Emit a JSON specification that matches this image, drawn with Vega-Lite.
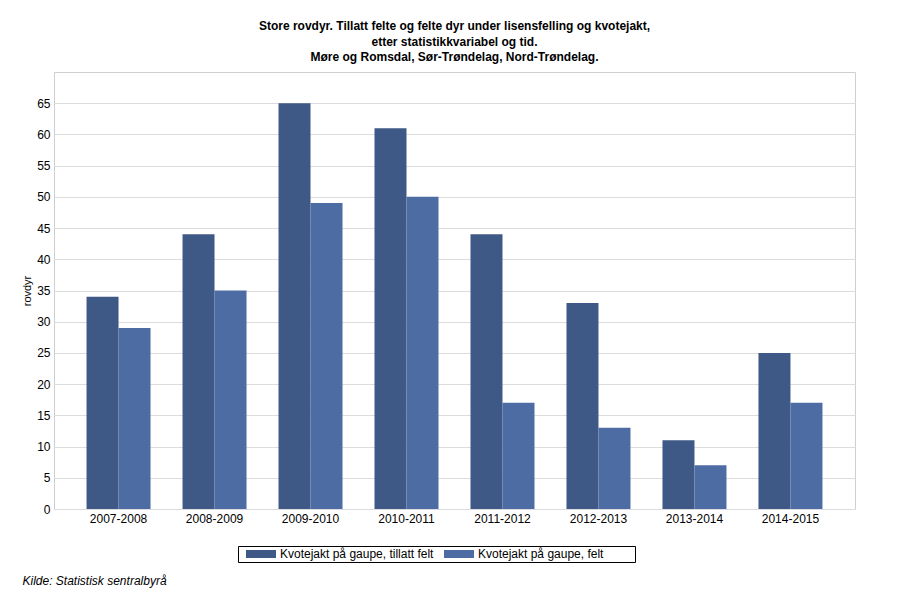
{
  "$schema": "https://vega.github.io/schema/vega-lite/v6.json",
  "width": 801,
  "height": 437,
  "autosize": {"type": "none"},
  "padding": {"left": 54, "top": 72, "right": 45, "bottom": 91},
  "background": "white",
  "config": {
    "font": "Liberation Sans",
    "view": {"stroke": "#cfcfcf", "strokeWidth": 1}
  },
  "title": {
    "text": [
      "Store rovdyr. Tillatt felte og felte dyr under lisensfelling og kvotejakt,",
      "etter statistikkvariabel og tid.",
      "Møre og Romsdal, Sør-Trøndelag, Nord-Trøndelag."
    ],
    "anchor": "middle",
    "fontSize": 12,
    "fontWeight": "bold",
    "color": "black",
    "lineHeight": 15.5,
    "offset": 8
  },
  "data": {
    "values": [
      {"periode": "2007-2008", "serie": "Kvotejakt på gaupe, tillatt felt", "verdi": 34},
      {"periode": "2007-2008", "serie": "Kvotejakt på gaupe, felt", "verdi": 29},
      {"periode": "2008-2009", "serie": "Kvotejakt på gaupe, tillatt felt", "verdi": 44},
      {"periode": "2008-2009", "serie": "Kvotejakt på gaupe, felt", "verdi": 35},
      {"periode": "2009-2010", "serie": "Kvotejakt på gaupe, tillatt felt", "verdi": 65},
      {"periode": "2009-2010", "serie": "Kvotejakt på gaupe, felt", "verdi": 49},
      {"periode": "2010-2011", "serie": "Kvotejakt på gaupe, tillatt felt", "verdi": 61},
      {"periode": "2010-2011", "serie": "Kvotejakt på gaupe, felt", "verdi": 50},
      {"periode": "2011-2012", "serie": "Kvotejakt på gaupe, tillatt felt", "verdi": 44},
      {"periode": "2011-2012", "serie": "Kvotejakt på gaupe, felt", "verdi": 17},
      {"periode": "2012-2013", "serie": "Kvotejakt på gaupe, tillatt felt", "verdi": 33},
      {"periode": "2012-2013", "serie": "Kvotejakt på gaupe, felt", "verdi": 13},
      {"periode": "2013-2014", "serie": "Kvotejakt på gaupe, tillatt felt", "verdi": 11},
      {"periode": "2013-2014", "serie": "Kvotejakt på gaupe, felt", "verdi": 7},
      {"periode": "2014-2015", "serie": "Kvotejakt på gaupe, tillatt felt", "verdi": 25},
      {"periode": "2014-2015", "serie": "Kvotejakt på gaupe, felt", "verdi": 17}
    ]
  },
  "mark": {"type": "bar"},
  "encoding": {
    "x": {
      "field": "periode",
      "type": "nominal",
      "sort": null,
      "scale": {"paddingInner": 0.3333, "paddingOuter": 0.339},
      "axis": {
        "title": "Kilde: Statistisk sentralbyrå",
        "titleFontStyle": "italic",
        "titleFontWeight": "normal",
        "titleFontSize": 12,
        "titleColor": "black",
        "titleAnchor": "start",
        "titleAlign": "left",
        "titleBaseline": "middle",
        "titleX": -32,
        "titleY": 71,
        "labelAngle": 0,
        "labelFontSize": 12,
        "labelColor": "black",
        "labelPadding": 4,
        "ticks": false,
        "domain": false,
        "grid": false
      }
    },
    "xOffset": {
      "field": "serie",
      "type": "nominal",
      "sort": ["Kvotejakt på gaupe, tillatt felt", "Kvotejakt på gaupe, felt"],
      "scale": {"paddingInner": 0, "paddingOuter": 0}
    },
    "y": {
      "field": "verdi",
      "type": "quantitative",
      "scale": {"domain": [0, 70], "nice": false},
      "axis": {
        "title": "rovdyr",
        "titleFontSize": 11,
        "titleFontWeight": "normal",
        "titleColor": "black",
        "titlePadding": 4,
        "values": [0, 5, 10, 15, 20, 25, 30, 35, 40, 45, 50, 55, 60, 65],
        "labelFontSize": 12,
        "labelColor": "black",
        "labelPadding": 4,
        "ticks": false,
        "domain": false,
        "gridColor": "#dcdcdc",
        "gridWidth": 1
      }
    },
    "color": {
      "field": "serie",
      "type": "nominal",
      "sort": ["Kvotejakt på gaupe, tillatt felt", "Kvotejakt på gaupe, felt"],
      "scale": {"range": ["#3f5986", "#4e6ca4"]},
      "legend": {
        "title": "\u00a0",
        "titleOrient": "right",
        "titlePadding": 30,
        "titleFontSize": 12,
        "orient": "none",
        "legendX": 184,
        "legendY": 474,
        "direction": "horizontal",
        "columns": 2,
        "columnPadding": 4,
        "padding": 2,
        "strokeColor": "black",
        "fillColor": "white",
        "symbolType": "M0,-0.8H6V0.8H0Z",
        "symbolSize": 100,
        "symbolStrokeWidth": 0,
        "symbolOpacity": 1,
        "labelFontSize": 12,
        "labelColor": "black",
        "labelOffset": 28,
        "labelLimit": 300
      }
    }
  }
}
